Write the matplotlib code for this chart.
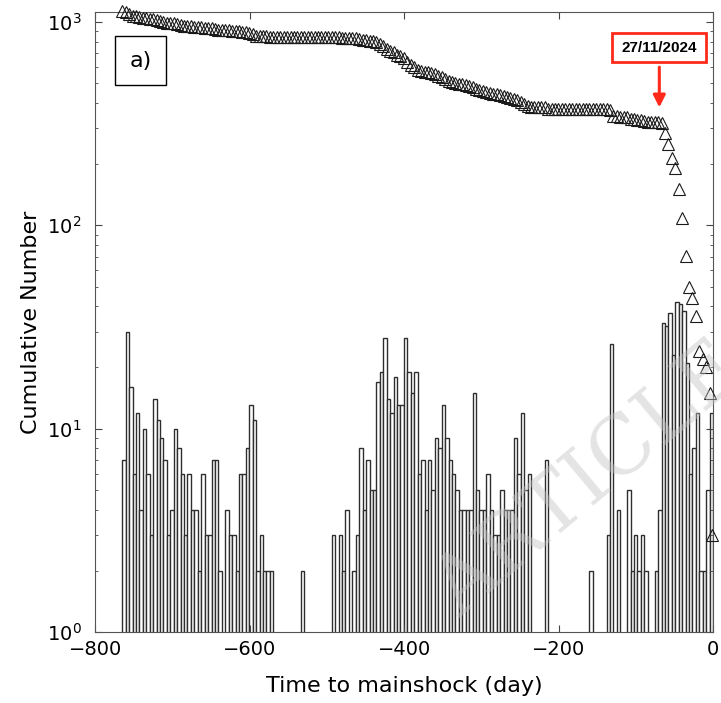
import numpy as np
import matplotlib.pyplot as plt

plt.rcParams['font.family'] = ['DejaVu Sans']

# events per time bin, oldest bin first (bins run from t_start up to the mainshock)
counts = [7, 30, 16, 6, 12, 4, 10, 6, 3, 14, 11, 9, 7, 3, 4, 10, 8, 6, 3, 6,
          4, 4, 2, 6, 3, 3, 7,
          7, 2, 0, 4, 3, 3, 2, 6, 6, 8, 13, 11, 2, 3, 2, 2, 2,
          0, 0, 0, 0, 0, 0, 0, 0, 2, 0, 0, 0, 0, 0, 0, 0, 0,
          3, 0, 3, 2, 4, 0, 2, 3, 8, 4, 7, 5, 5, 17, 19, 28, 14, 12, 18, 13,
          13, 28, 19, 15, 19, 6, 7, 4, 7, 5, 9, 8, 13, 9, 7, 6, 5, 4, 4, 4,
          4, 15, 5, 4, 4, 6, 4, 3, 3, 5, 4, 4, 4, 9, 6, 12, 5, 6,
          0, 0, 0, 0, 7, 0, 0, 0, 0, 0, 0, 0, 0, 0, 0, 0, 0,
          2, 0, 0, 0, 0, 3, 26, 0, 4, 0, 0, 5, 2, 3, 2, 3, 2, 0, 0,
          2, 4, 33, 32, 37, 23, 42, 41, 38, 21, 6, 8, 12, 2, 2, 5, 12]
t_start = -765     # first bin edge (days before mainshock)
last_day = 3       # events on the last day, shown as the final triangle

counts = np.array(counts)
edges = np.linspace(t_start, 0, len(counts) + 1)
width = edges[1] - edges[0]

# number of events from each bin up to the mainshock
cum = np.cumsum(counts[::-1])[::-1] + last_day
t_cum = np.append(edges[:-1], -1)
cum = np.append(cum, last_day)

fig = plt.figure(figsize=(7.21, 7.03), dpi=100)
ax = fig.add_axes([0.132, 0.101, 0.857, 0.882])
ax.set_yscale('log')

ax.bar(edges[:-1], counts, width=width, align='edge',
       facecolor='white', edgecolor='#2e2e2e', linewidth=1.0)
ax.plot(t_cum, cum, '^', mfc='none', mec='#1a1a1a', ms=8, mew=0.8,
        clip_on=False, zorder=5)

ax.set_xlim(-800, 0)
ax.set_ylim(1, 1120)
ax.set_xticks([-800, -600, -400, -200, 0])
ax.tick_params(which='both', direction='in', top=True, right=True,
               labelsize=14, color='#444444')
ax.tick_params(which='major', length=5)
ax.tick_params(which='minor', length=2.5)
ax.tick_params(axis='x', pad=6)
ax.tick_params(axis='y', pad=10)
for s in ax.spines.values():
    s.set_color('#555555')
    s.set_linewidth(0.8)

ax.set_xlabel('Time to mainshock (day)', fontsize=16, labelpad=12)
ax.set_ylabel('Cumulative Number', fontsize=16, labelpad=4)

# panel label
ax.add_patch(plt.Rectangle((0.032, 0.882), 0.083, 0.079, transform=ax.transAxes,
                           fill=False, edgecolor='black', linewidth=1.0))
ax.text(0.0735, 0.921, 'a)', transform=ax.transAxes, fontsize=16,
        ha='center', va='center')

# date box and arrow
ax.add_patch(plt.Rectangle((0.837, 0.919), 0.152, 0.047, transform=ax.transAxes,
                           facecolor='white', edgecolor='#ff2a1a', linewidth=2.0,
                           zorder=6))
ax.text(0.913, 0.9425, '27/11/2024', transform=ax.transAxes, fontsize=11,
        fontweight='bold', family=['Liberation Sans', 'DejaVu Sans'],
        ha='center', va='center', zorder=7)
ax.annotate('', xy=(0.913, 0.846), xytext=(0.913, 0.911),
            xycoords='axes fraction',
            arrowprops=dict(arrowstyle='-|>', color='#ff2a1a', lw=2.2,
                            mutation_scale=18, shrinkA=0, shrinkB=0))

# watermark
fig.text(0.818, 0.317, 'ARTICLE', rotation=40, fontsize=58,
         family=['DejaVu Serif'], color='#c4c4c4', alpha=0.45,
         ha='center', va='center', zorder=10)

fig.savefig('out.png', dpi=100)
